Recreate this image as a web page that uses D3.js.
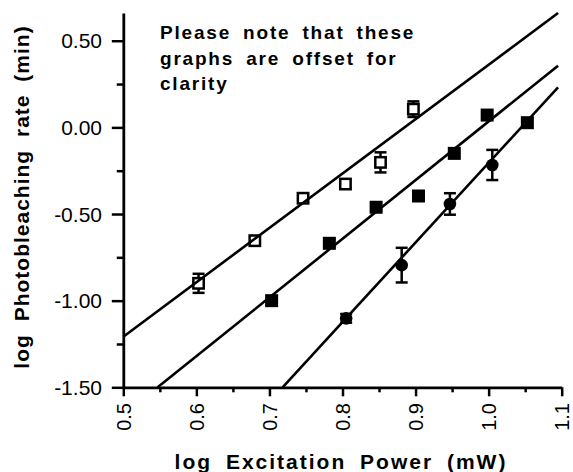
<!DOCTYPE html>
<html>
<head>
<meta charset="utf-8">
<script src="https://cdn.jsdelivr.net/npm/d3@7/dist/d3.min.js"></script>
<style>
  html, body { margin: 0; padding: 0; background: #fff; }
  svg { display: block; font-family: "Liberation Sans", Arial, Helvetica, sans-serif; }
</style>
</head>
<body>
<svg id="chart" width="573" height="472"></svg>
<script>
// ---- data ----
const xTicks = [0.5, 0.6, 0.7, 0.8, 0.9, 1.0, 1.1];
const xTickLabels = ["0.5", "0.6", "0.7", "0.8", "0.9", "1.0", "1.1"];
const xMinorTicks = [0.55, 0.65, 0.75, 0.85, 0.95, 1.05];
const yTicks = [-1.5, -1.0, -0.5, 0.0, 0.5];
const yTickLabels = ["-1.50", "-1.00", "-0.50", "0.00", "0.50"];
const yMinorTicks = [-1.25, -0.75, -0.25, 0.25];

const openSqX = [0.603, 0.680, 0.746, 0.804, 0.852, 0.897];
const openSqY = [-0.900, -0.654, -0.409, -0.327, -0.202, 0.105];
const openSqErr = [0.055, 0, 0, 0.025, 0.058, 0.045];

const fillSqX = [0.703, 0.782, 0.846, 0.904, 0.953, 0.998, 1.053];
const fillSqY = [-1.000, -0.669, -0.461, -0.396, -0.150, 0.071, 0.027];
const fillSqErr = [0, 0.022, 0.02, 0, 0, 0, 0];

const circX = [0.805, 0.881, 0.947, 1.005];
const circY = [-1.102, -0.795, -0.442, -0.217];
const circErr = [0.025, 0.1, 0.062, 0.087];

const fitOpenX = [0.5, 1.095], fitOpenY = [-1.208, 0.66];
const fitFillX = [0.547, 1.095], fitFillY = [-1.5, 0.356];
const fitCircX = [0.718, 1.095], fitCircY = [-1.5, 0.231];

const noteLines = ["Please note that these", "graphs are offset for", "clarity"];
const xTitle = "log Excitation Power (mW)";
const yTitle = "log Photobleaching rate (min)";

// ---- layout ----
const svg = d3.select("#chart");
const x = d3.scaleLinear().domain([0.5, 1.1]).range([123.3, 561.7]);
const y = d3.scaleLinear().domain([-1.5, 0.66]).range([387.3, 13]);

// axes
const xAxis = d3.axisBottom(x).tickValues(xTicks).tickSize(9).tickFormat("");
const xAxisMinor = d3.axisBottom(x).tickValues(xMinorTicks).tickSize(5).tickFormat("");
const yAxis = d3.axisLeft(y).tickValues(yTicks).tickSize(11.5).tickFormat("");
const yAxisMinor = d3.axisLeft(y).tickValues(yMinorTicks).tickSize(6.5).tickFormat("");

function styleAxis(g) {
  g.selectAll("path.domain").attr("stroke", "#000").attr("stroke-width", 2.8);
  g.selectAll(".tick line").attr("stroke", "#000").attr("stroke-width", 2.5);
}

svg.append("g").attr("transform", `translate(0,${y(-1.5)})`).call(xAxisMinor).call(styleAxis)
  .select("path.domain").remove();
svg.append("g").attr("transform", `translate(${x(0.5)},0)`).call(yAxisMinor).call(styleAxis)
  .select("path.domain").remove();
const gx = svg.append("g").attr("transform", `translate(0,${y(-1.5)})`).call(xAxis.tickSizeOuter(0)).call(styleAxis);
const gy = svg.append("g").attr("transform", `translate(${x(0.5)},0)`).call(yAxis.tickSizeOuter(0)).call(styleAxis);

// tick labels
svg.append("g").selectAll("text").data(xTicks).join("text")
  .attr("transform", d => `translate(${x(d)},403) rotate(-90)`)
  .attr("text-anchor", "end").attr("dy", "0.36em")
  .attr("font-size", 20).attr("fill", "#000")
  .text((d, i) => xTickLabels[i]);

svg.append("g").selectAll("text").data(yTicks).join("text")
  .attr("x", 102).attr("y", d => y(d)).attr("dy", "0.36em")
  .attr("text-anchor", "end").attr("font-size", 21).attr("fill", "#000")
  .text((d, i) => yTickLabels[i]);

// axis titles
svg.append("text").attr("x", 341).attr("y", 469)
  .attr("text-anchor", "middle").attr("font-size", 21).attr("font-weight", "bold")
  .attr("letter-spacing", "2px").attr("word-spacing", "6px").attr("fill", "#000")
  .text(xTitle);
svg.append("text").attr("transform", "translate(29,197) rotate(-90)")
  .attr("text-anchor", "middle").attr("font-size", 21).attr("font-weight", "bold")
  .attr("letter-spacing", "1px").attr("word-spacing", "6px").attr("fill", "#000")
  .text(yTitle);

// annotation
svg.append("g").selectAll("text").data(noteLines).join("text")
  .attr("x", 160).attr("y", (d, i) => 39 + i * 25.5)
  .attr("font-size", 19).attr("font-weight", "bold")
  .attr("letter-spacing", "1.8px").attr("word-spacing", "5px").attr("fill", "#000")
  .text(d => d);

// error bars
function errorBars(xs, ys, es) {
  const pts = xs.map((v, i) => ({ x: v, y: ys[i], e: es[i] })).filter(p => p.e > 0);
  const g = svg.append("g").attr("stroke", "#000").attr("stroke-width", 2.5);
  g.selectAll("line.v").data(pts).join("line").attr("class", "v")
    .attr("x1", p => x(p.x)).attr("x2", p => x(p.x))
    .attr("y1", p => y(p.y - p.e)).attr("y2", p => y(p.y + p.e));
  g.selectAll("line.t").data(pts).join("line").attr("class", "t")
    .attr("x1", p => x(p.x) - 6).attr("x2", p => x(p.x) + 6)
    .attr("y1", p => y(p.y + p.e)).attr("y2", p => y(p.y + p.e));
  g.selectAll("line.b").data(pts).join("line").attr("class", "b")
    .attr("x1", p => x(p.x) - 6).attr("x2", p => x(p.x) + 6)
    .attr("y1", p => y(p.y - p.e)).attr("y2", p => y(p.y - p.e));
}
errorBars(openSqX, openSqY, openSqErr);
errorBars(fillSqX, fillSqY, fillSqErr);
errorBars(circX, circY, circErr);

// markers
svg.append("g").selectAll("rect").data(openSqX).join("rect")
  .attr("x", (d) => x(d) - 5.2).attr("y", (d, i) => y(openSqY[i]) - 5.2)
  .attr("width", 10.4).attr("height", 10.4)
  .attr("fill", "#fff").attr("stroke", "#000").attr("stroke-width", 2.5);

svg.append("g").selectAll("rect").data(fillSqX).join("rect")
  .attr("x", (d) => x(d) - 6.5).attr("y", (d, i) => y(fillSqY[i]) - 6.5)
  .attr("width", 13).attr("height", 13).attr("fill", "#000");

svg.append("g").selectAll("circle").data(circX).join("circle")
  .attr("cx", d => x(d)).attr("cy", (d, i) => y(circY[i])).attr("r", 6.3)
  .attr("fill", "#000");

// fit lines
const fits = [[fitOpenX, fitOpenY], [fitFillX, fitFillY], [fitCircX, fitCircY]];
const lineGen = d3.line().x(d => x(d[0])).y(d => y(d[1]));
svg.append("g").selectAll("path").data(fits).join("path")
  .attr("d", f => lineGen(f[0].map((v, i) => [v, f[1][i]])))
  .attr("fill", "none").attr("stroke", "#000").attr("stroke-width", 2.6);
</script>
</body>
</html>
